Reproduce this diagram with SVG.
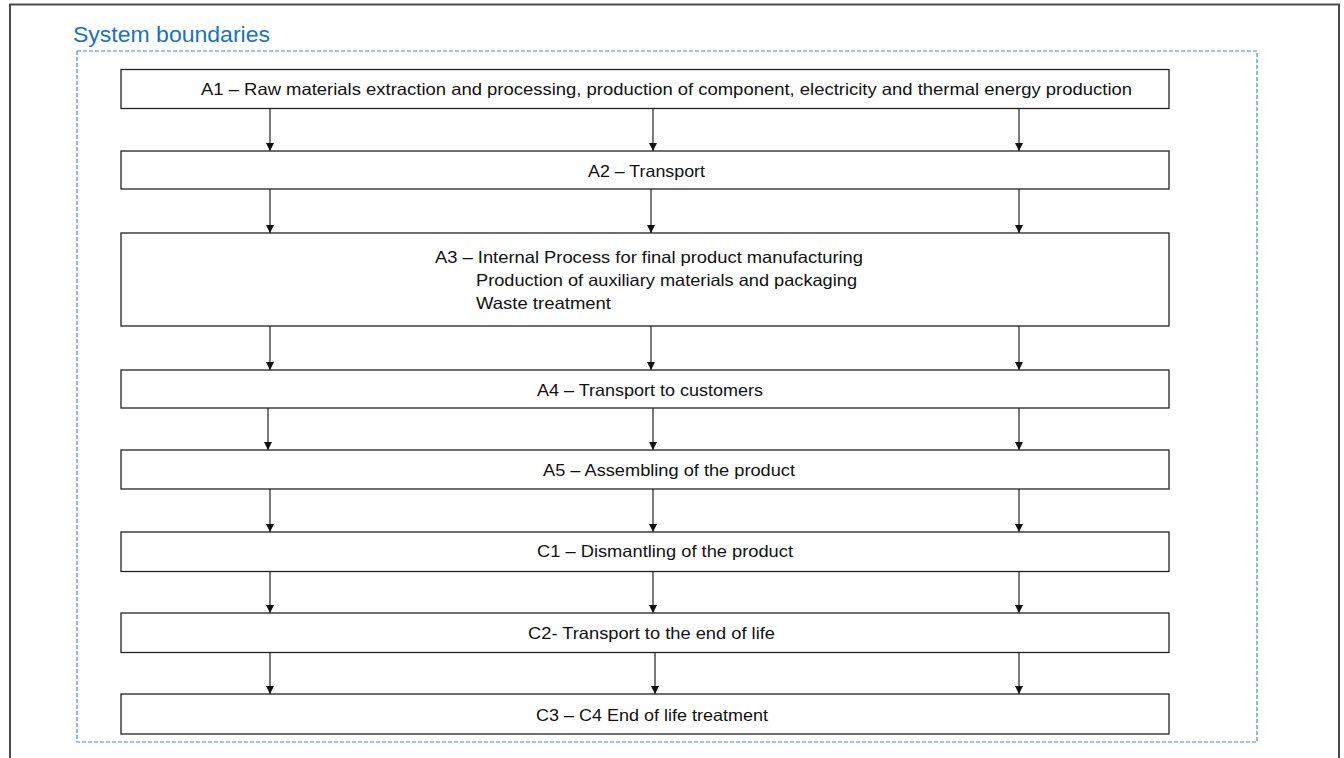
<svg xmlns="http://www.w3.org/2000/svg" width="1344" height="758" viewBox="0 0 1344 758">
<defs>
<style>
.box{fill:#fff;stroke:#222;stroke-width:1.3}
.t{font-family:"Liberation Sans",Arial,sans-serif;font-size:16.5px;fill:#111}
.c{stroke:#222;stroke-width:1.2;fill:none}
</style>
<marker id="ah" viewBox="0 0 10 10" refX="10" refY="5" markerWidth="8" markerHeight="8" markerUnits="userSpaceOnUse" orient="auto">
<path d="M0,0 L10,5 L0,10 z" fill="#111"/>
</marker>
</defs>
<rect x="0" y="0" width="1344" height="758" fill="#fff"/>
<path d="M10,770 L10,4.5 L1339,4.5 L1339,770" fill="none" stroke="#4a4a4a" stroke-width="2"/>
<rect x="77" y="51" width="1180" height="691" fill="none" stroke="#3a8fd6" stroke-width="1.2" stroke-dasharray="4 2"/>
<text x="73" y="42" font-family="'Liberation Sans',Arial,sans-serif" font-size="22" fill="#1a72c0" textLength="197" lengthAdjust="spacingAndGlyphs">System boundaries</text>

<g id="a1"><rect class="box" x="121" y="69.5" width="1048" height="39"/><text class="t" x="201" y="95" textLength="931" lengthAdjust="spacingAndGlyphs">A1 – Raw materials extraction and processing, production of component, electricity and thermal energy production</text></g>
<g id="a2"><rect class="box" x="121" y="151" width="1048" height="38"/><text class="t" x="588" y="177" textLength="117" lengthAdjust="spacingAndGlyphs">A2 – Transport</text></g>
<g id="a3"><rect class="box" x="121" y="233" width="1048" height="93"/>
<text class="t" x="435" y="263" textLength="428" lengthAdjust="spacingAndGlyphs">A3 – Internal Process for final product manufacturing</text>
<text class="t" x="476" y="286" textLength="381" lengthAdjust="spacingAndGlyphs">Production of auxiliary materials and packaging</text>
<text class="t" x="476" y="309" textLength="135" lengthAdjust="spacingAndGlyphs">Waste treatment</text></g>
<g id="a4"><rect class="box" x="121" y="370" width="1048" height="38"/><text class="t" x="537" y="396" textLength="226" lengthAdjust="spacingAndGlyphs">A4 – Transport to customers</text></g>
<g id="a5"><rect class="box" x="121" y="450" width="1048" height="39"/><text class="t" x="543" y="476" textLength="252" lengthAdjust="spacingAndGlyphs">A5 – Assembling of the product</text></g>
<g id="c1"><rect class="box" x="121" y="532" width="1048" height="39.5"/><text class="t" x="537" y="557" textLength="256" lengthAdjust="spacingAndGlyphs">C1 – Dismantling of the product</text></g>
<g id="c2"><rect class="box" x="121" y="613" width="1048" height="39.5"/><text class="t" x="528" y="639" textLength="247" lengthAdjust="spacingAndGlyphs">C2- Transport to the end of life</text></g>
<g id="c3"><rect class="box" x="121" y="694" width="1048" height="40"/><text class="t" x="536" y="721" textLength="232" lengthAdjust="spacingAndGlyphs">C3 – C4 End of life treatment</text></g>

<g id="connectors" class="c">
<path class="c" marker-end="url(#ah)" d="M270,108.5 V151"/><path class="c" marker-end="url(#ah)" d="M653,108.5 V151"/><path class="c" marker-end="url(#ah)" d="M1019,108.5 V151"/>
<path class="c" marker-end="url(#ah)" d="M270,189 V233"/><path class="c" marker-end="url(#ah)" d="M651,189 V233"/><path class="c" marker-end="url(#ah)" d="M1019,189 V233"/>
<path class="c" marker-end="url(#ah)" d="M270,326 V370"/><path class="c" marker-end="url(#ah)" d="M651,326 V370"/><path class="c" marker-end="url(#ah)" d="M1019,326 V370"/>
<path class="c" marker-end="url(#ah)" d="M268,408 V450"/><path class="c" marker-end="url(#ah)" d="M653,408 V450"/><path class="c" marker-end="url(#ah)" d="M1019,408 V450"/>
<path class="c" marker-end="url(#ah)" d="M270,489 V532"/><path class="c" marker-end="url(#ah)" d="M653,489 V532"/><path class="c" marker-end="url(#ah)" d="M1019,489 V532"/>
<path class="c" marker-end="url(#ah)" d="M270,571.5 V613"/><path class="c" marker-end="url(#ah)" d="M653,571.5 V613"/><path class="c" marker-end="url(#ah)" d="M1019,571.5 V613"/>
<path class="c" marker-end="url(#ah)" d="M270,652.5 V694"/><path class="c" marker-end="url(#ah)" d="M655,652.5 V694"/><path class="c" marker-end="url(#ah)" d="M1019,652.5 V694"/>
</g>
</svg>
